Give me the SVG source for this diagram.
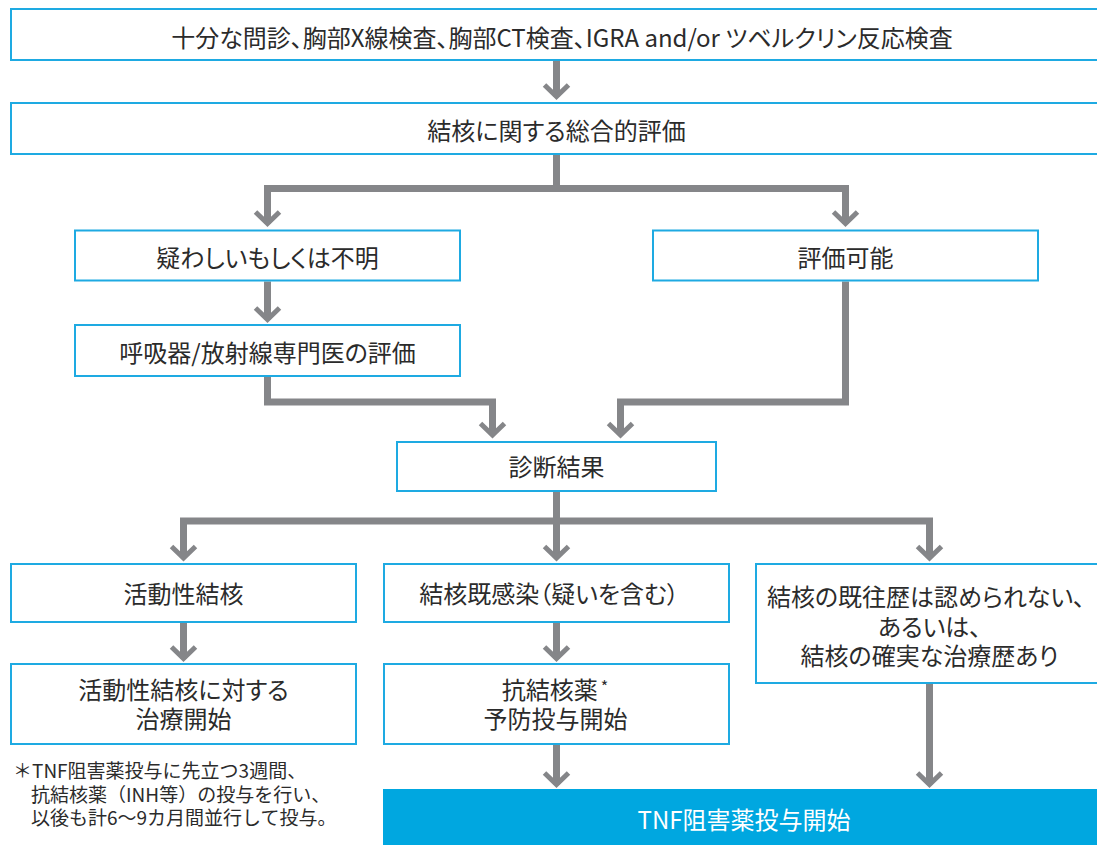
<svg xmlns="http://www.w3.org/2000/svg" width="1097" height="845" viewBox="0 0 1097 845">
<defs>
<style>
.box{fill:#fff;stroke:#1eaae2;stroke-width:2}
.t{font-family:"Noto Sans CJK JP","Noto Sans",sans-serif;font-size:24px;fill:#2b2b2b;text-anchor:middle;font-feature-settings:"palt"}
.fn{font-family:"Noto Sans CJK JP","Noto Sans",sans-serif;font-size:19px;fill:#2b2b2b}
.c{fill:none;stroke:#858689;stroke-width:7;stroke-linejoin:miter;stroke-linecap:butt}
</style>
<marker id="arr" markerUnits="userSpaceOnUse" viewBox="-20 -16 26 32" refX="0" refY="0" markerWidth="26" markerHeight="32" orient="auto">
<path d="M-11.5 -12 L0 0 L-11.5 12" fill="none" stroke="#858689" stroke-width="5" stroke-linejoin="miter"/>
</marker>
</defs>
<rect width="1097" height="845" fill="#fff"/>
<g id="connectors">
<path class="c" d="M556.5 61 V96.5" marker-end="url(#arr)"/>
<path class="c" d="M556.5 155 V188.5 H267.5 V223.5" marker-end="url(#arr)"/>
<path class="c" d="M556.5 188.5 H845.5 V223.5" marker-end="url(#arr)"/>
<path class="c" d="M267.5 281.5 V319.5" marker-end="url(#arr)"/>
<path class="c" d="M267.5 376.5 V402 H492.5 V435" marker-end="url(#arr)"/>
<path class="c" d="M845.5 281.5 V402 H620.5 V435" marker-end="url(#arr)"/>
<path class="c" d="M556.5 492 V521 H183.5 V558" marker-end="url(#arr)"/>
<path class="c" d="M556.5 521 V558" marker-end="url(#arr)"/>
<path class="c" d="M556.5 521 H929.5 V558" marker-end="url(#arr)"/>
<path class="c" d="M183.5 623 V658.5" marker-end="url(#arr)"/>
<path class="c" d="M556.5 623 V658.5" marker-end="url(#arr)"/>
<path class="c" d="M556.5 745 V784.5" marker-end="url(#arr)"/>
<path class="c" d="M929.5 684 V784.5" marker-end="url(#arr)"/>
</g>
<g id="n1"><rect class="box" x="11" y="9" width="1100" height="51"/><text class="t" x="562" y="46.5">十分な問診、胸部X線検査、胸部CT検査、IGRA and/or ツベルクリン反応検査</text></g>
<g id="n2"><rect class="box" x="11" y="103" width="1100" height="51"/><text class="t" x="556.5" y="140">結核に関する総合的評価</text></g>
<g id="n3"><rect class="box" x="75" y="230.5" width="385" height="50"/><text class="t" x="267.5" y="267">疑わしいもしくは不明</text></g>
<g id="n4"><rect class="box" x="653" y="230.5" width="385" height="50"/><text class="t" x="845.5" y="267">評価可能</text></g>
<g id="n5"><rect class="box" x="75" y="325" width="385" height="51"/><text class="t" x="267.5" y="361.5">呼吸器/放射線専門医の評価</text></g>
<g id="n6"><rect class="box" x="397" y="442" width="319" height="49"/><text class="t" x="556.5" y="475.5">診断結果</text></g>
<g id="n7"><rect class="box" x="11" y="564" width="345" height="58"/><text class="t" x="183.5" y="602.5">活動性結核</text></g>
<g id="n8"><rect class="box" x="384" y="564" width="345" height="58"/><text class="t" x="549" y="602.5">結核既感染（疑いを含む）</text></g>
<g id="n9"><rect class="box" x="756" y="564" width="400" height="119"/><text class="t" x="926" y="606">結核の既往歴は認められない、</text><text class="t" x="929.5" y="635.5">あるいは、</text><text class="t" x="929.5" y="665">結核の確実な治療歴あり</text></g>
<g id="n10"><rect class="box" x="11" y="664" width="345" height="80"/><text class="t" x="183.5" y="699">活動性結核に対する</text><text class="t" x="183.5" y="728">治療開始</text></g>
<g id="n11"><rect class="box" x="384" y="664" width="345" height="80"/><text class="t" x="555" y="699">抗結核薬<tspan font-size="16" dx="3" dy="-6">*</tspan></text><text class="t" x="555.5" y="728">予防投与開始</text></g>
<g id="n12"><rect x="383" y="789" width="714" height="56" fill="#00a7e0"/><text class="t" x="744" y="829" style="fill:#fff">TNF阻害薬投与開始</text></g>
<g id="note"><text class="fn" x="13" y="777.5">＊TNF阻害薬投与に先立つ3週間、</text><text class="fn" x="31" y="802">抗結核薬（INH等）の投与を行い、</text><text class="fn" x="31" y="825">以後も計6～9カ月間並行して投与。</text></g>
</svg>
